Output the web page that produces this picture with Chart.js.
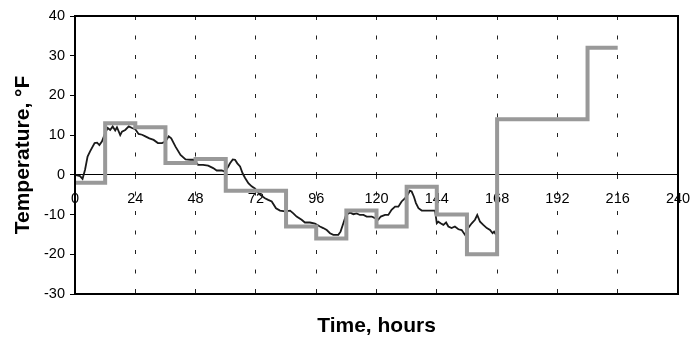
<!DOCTYPE html>
<html>
<head>
<meta charset="utf-8">
<script src="https://cdn.jsdelivr.net/npm/chart.js@4/dist/chart.umd.min.js"></script>
<style>
  html, body { margin: 0; padding: 0; background: #ffffff; }
  #wrap { width: 691px; height: 343px; }
</style>
</head>
<body>
<div id="wrap"><canvas id="chart" width="691" height="343"></canvas></div>
<script>
// Measured air temperature, hourly trace (hours, °F)
const measHours = [0, 2, 3, 4, 5, 6, 7.8, 8.8, 9.7, 10.7, 12, 13, 14, 15, 16, 16.7, 18, 18.7, 20, 21.4,
  22.7, 24, 25.3, 26.7, 28, 29.6, 31.3, 33, 34.6, 36, 37.3, 38.3, 40, 42, 44, 46, 47.2, 49, 51, 53,
  55, 56.4, 58.4, 59.7, 61, 61.7, 62.8, 63.7, 64.6, 65.7, 66.7, 67.7, 69, 70.3, 71.6, 73.6, 75.6, 76.9, 78.3, 80,
  81.6, 83.6, 85.6, 86.9, 88.2, 90.2, 91.5, 93.5, 95.5, 97.5, 98.8, 100.2, 101.5, 102.8, 104.8, 105.7, 106.8, 107.9, 109.5, 110.8,
  112.1, 113.4, 114.8, 116.1, 118.1, 119.4, 120.7, 121.7, 123.4, 124.7, 126, 127.4, 128.7, 130, 131.3, 132.4, 133.3, 134, 134.9, 135.7,
  136.7, 138, 140.6, 143.3, 144, 144.6, 145.5, 146.6, 147.7, 148.6, 149.9, 151.2, 152.6, 153.9, 155.2, 156.5, 157.9, 159.2, 160.1, 161.2,
  162.5, 163.9, 165.2, 166.2, 166.8, 167.6];
const measTemps = [0, -0.3, -1, 1.3, 4.6, 5.9, 8, 8.1, 7.5, 8.4, 10.5, 11.8, 11.3, 12.2, 11.2, 12, 10, 10.9, 11.3, 12.2,
  11.8, 11.5, 10.3, 10.1, 9.7, 9.2, 8.8, 8, 8, 8.4, 9.7, 9.2, 7.1, 5, 3.9, 3.8, 3.8, 2.5, 2.5, 2.3,
  1.7, 1.1, 1.1, 0.8, 2.1, 2.9, 3.9, 3.8, 2.9, 2.1, 0.4, -0.8, -2.1, -2.9, -3.4, -5, -5.9, -6.3, -6.7, -8.4,
  -9, -9.2, -9, -9.7, -10.5, -11.3, -12, -12, -12.3, -13, -13.4, -13.9, -14.7, -15.1, -15.1, -14.3, -12.2, -10.1, -9.5, -9.9,
  -9.7, -10.1, -10.1, -10.5, -10.5, -10.9, -11.3, -10.5, -10.1, -10.1, -8.8, -8, -8, -6.7, -5.9, -5, -4, -4.2, -5.5, -7.1,
  -8.4, -9, -9, -9, -12.2, -11.8, -12.2, -12.6, -12, -13, -13.4, -13, -13.7, -13.9, -15.1, -13.4, -12.2, -11.3, -10.1, -11.8,
  -12.6, -13.4, -13.9, -14.7, -14.3, -15.1];

// Stepped design temperature: each value holds from its start hour to the next one
const stepHours = [0, 12, 24, 36, 48, 60, 84, 96, 108, 120, 132, 144, 156, 168, 204, 216];
const stepTemps = [-2, 13, 12, 3, 4, -4, -13, -16, -9, -13, -3, -10, -20, 14, 32, 32];

// Axis ticks
const xTicks = [0, 24, 48, 72, 96, 120, 144, 168, 192, 216, 240];
const yTicks = [-30, -20, -10, 0, 10, 20, 30, 40];

const toPoints = (xs, ys) => xs.map((x, i) => ({ x: x, y: ys[i] }));

Chart.defaults.font.family = "'Liberation Sans', Arial, sans-serif";
Chart.defaults.color = '#000000';

// Black frame around the plot area
const frame = {
  id: 'frame',
  afterDraw(chart) {
    const a = chart.chartArea, ctx = chart.ctx;
    ctx.save();
    ctx.strokeStyle = '#000000';
    ctx.lineWidth = 2;
    ctx.strokeRect(a.left, a.top, a.right - a.left, a.bottom - a.top);
    ctx.restore();
  }
};

new Chart(document.getElementById('chart'), {
  type: 'scatter',
  data: {
    datasets: [
      {
        label: 'Step',
        data: toPoints(stepHours, stepTemps),
        showLine: true,
        stepped: 'before',
        borderColor: '#999999',
        borderWidth: 4,
        pointRadius: 0,
        fill: false,
        order: 0
      },
      {
        label: 'Measured',
        data: toPoints(measHours, measTemps),
        showLine: true,
        borderColor: '#1a1a1a',
        borderWidth: 1.8,
        pointRadius: 0,
        tension: 0,
        fill: false,
        order: 1
      }
    ]
  },
  options: {
    responsive: false,
    animation: false,
    events: [],
    layout: { padding: { top: 16, right: 13, left: 0, bottom: 0 } },
    plugins: { legend: { display: false }, tooltip: { enabled: false } },
    scales: {
      x: {
        type: 'linear',
        min: 0, max: 240,
        position: { y: 0 },
        afterBuildTicks(scale) { scale.ticks = xTicks.map(v => ({ value: v })); },
        afterFit(scale) { scale.paddingLeft = 0; scale.paddingRight = 0; },
        ticks: { font: { size: 14.5 }, padding: 11, maxRotation: 0, autoSkip: false },
        grid: { display: true, drawOnChartArea: true, drawTicks: true, tickLength: 4, color: '#222222', lineWidth: 1, tickBorderDash: [] },
        border: { display: true, color: '#000000', width: 1, dash: [4, 15.5] }
      },
      xt: {
        type: 'linear',
        axis: 'x',
        min: 0, max: 240,
        position: 'bottom',
        afterFit(scale) { scale.height = 49; scale.paddingLeft = 0; scale.paddingRight = 0; },
        ticks: { display: false },
        grid: { display: false },
        border: { display: false },
        title: { display: true, text: 'Time, hours', font: { size: 21, weight: 'bold' }, padding: { top: 0, bottom: 4 } }
      },
      y: {
        type: 'linear',
        min: -30, max: 40,
        position: 'left',
        afterBuildTicks(scale) { scale.ticks = yTicks.map(v => ({ value: v })); },
        afterFit(scale) { scale.width = 75; },
        ticks: { font: { size: 14.5 }, padding: 5 },
        grid: { drawOnChartArea: false, drawTicks: true, tickLength: 5, color: '#000000' },
        border: { display: true, color: '#000000', width: 2 },
        title: { display: true, text: 'Temperature, °F', font: { size: 21, weight: 'bold' }, padding: { top: 11, bottom: 0 } }
      }
    }
  },
  plugins: [frame]
});
</script>
</body>
</html>
